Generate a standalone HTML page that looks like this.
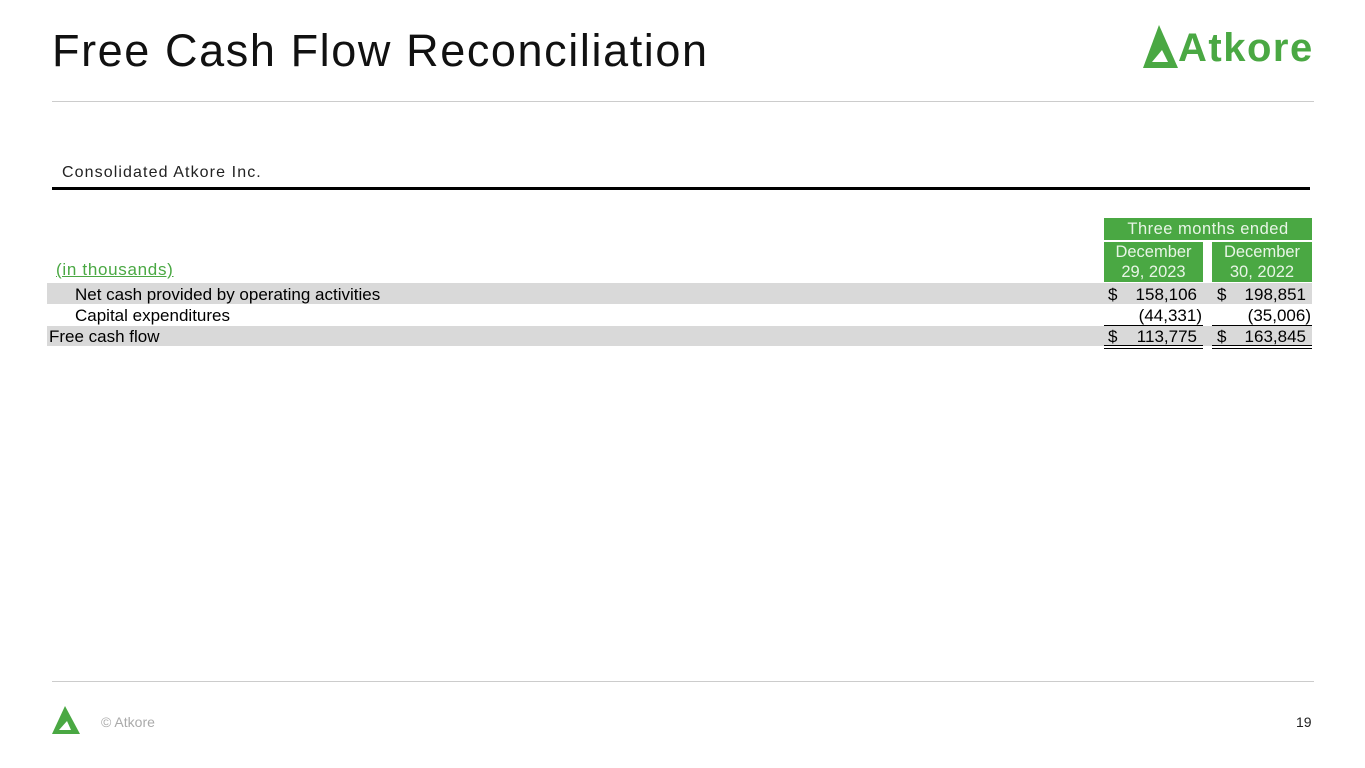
<!DOCTYPE html>
<html><head><meta charset="utf-8"><style>
body{margin:0;width:1365px;height:768px;background:#fff;position:relative;overflow:hidden;font-family:"Liberation Sans",sans-serif;}
.a{position:absolute;white-space:nowrap;}
.g{background:#4aa843;color:#e8f5e6;}
.gray{background:#d9d9d9;}
.t{font-size:17px;color:#000;line-height:21px;}
</style></head><body>
<div class="a" style="left:52px;top:24px;font-size:45px;color:#111;letter-spacing:1.6px;line-height:54px;">Free Cash Flow Reconciliation</div>
<svg class="a" style="left:1140px;top:22px" width="190" height="50">
<polygon points="3,46 19,3 38,46" fill="#4aa843"/>
<polygon points="12,40 22,28 28,40" fill="#fff"/>
<polygon points="12,40 28,40 30,46 10,46" fill="#4aa843"/>
<text x="38" y="39" font-family="Liberation Sans" font-weight="bold" font-size="40" letter-spacing="1.5" fill="#4aa843">Atkore</text>
</svg>
<div class="a" style="left:52px;top:101px;width:1262px;height:1px;background:#ccc"></div>
<div class="a" style="left:62px;top:164px;font-size:16px;color:#222;letter-spacing:1.1px">Consolidated Atkore Inc.</div>
<div class="a" style="left:52px;top:187px;width:1258px;height:3px;background:#000"></div>

<div class="a g" style="left:1104px;top:218px;width:208px;height:22px;font-size:16.5px;text-align:center;line-height:23px;letter-spacing:0.5px">Three months ended</div>
<div class="a g" style="left:1104px;top:242px;width:99px;height:40px;font-size:16.5px;text-align:center;line-height:20px">December<br>29, 2023</div>
<div class="a g" style="left:1212px;top:242px;width:100px;height:40px;font-size:16.5px;text-align:center;line-height:20px">December<br>30, 2022</div>
<div class="a" style="left:56px;top:260px;font-size:17px;color:#4aa843;text-decoration:underline;letter-spacing:0.7px">(in thousands)</div>

<div class="a gray" style="left:47px;top:283px;width:1265px;height:21px"></div>
<div class="a gray" style="left:47px;top:326px;width:1265px;height:20px"></div>

<div class="a t" style="left:75px;top:284px">Net cash provided by operating activities</div>
<div class="a t" style="left:75px;top:305px">Capital expenditures</div>
<div class="a t" style="left:49px;top:326px">Free cash flow</div>

<div class="a t" style="left:1108px;top:284px">$</div><div class="a t" style="left:1104px;width:93px;text-align:right;top:284px">158,106</div>
<div class="a t" style="left:1217px;top:284px">$</div><div class="a t" style="left:1212px;width:94px;text-align:right;top:284px">198,851</div>
<div class="a t" style="left:1104px;width:98px;text-align:right;top:305px">(44,331)</div>
<div class="a t" style="left:1212px;width:99px;text-align:right;top:305px">(35,006)</div>
<div class="a t" style="left:1108px;top:326px">$</div><div class="a t" style="left:1104px;width:93px;text-align:right;top:326px">113,775</div>
<div class="a t" style="left:1217px;top:326px">$</div><div class="a t" style="left:1212px;width:94px;text-align:right;top:326px">163,845</div>

<div class="a" style="left:1104px;top:325px;width:99px;height:1px;background:#000"></div>
<div class="a" style="left:1212px;top:325px;width:100px;height:1px;background:#000"></div>
<div class="a" style="left:1104px;top:345px;width:99px;height:1px;background:#000"></div>
<div class="a" style="left:1212px;top:345px;width:100px;height:1px;background:#000"></div>
<div class="a" style="left:1104px;top:348px;width:99px;height:1px;background:#000"></div>
<div class="a" style="left:1212px;top:348px;width:100px;height:1px;background:#000"></div>

<div class="a" style="left:52px;top:681px;width:1262px;height:1px;background:#ccc"></div>
<svg class="a" style="left:50px;top:704px" width="40" height="32">
<polygon points="2,30 15,2 30,30" fill="#4aa843"/>
<polygon points="9,26 17,17 21,26" fill="#fff"/>
<polygon points="9,26 21,26 23,30 7,30" fill="#4aa843"/>
</svg>
<div class="a" style="left:101px;top:714px;font-size:14px;color:#aaa">© Atkore</div>
<div class="a" style="left:1296px;top:714px;font-size:14px;color:#222">19</div>
</body></html>
